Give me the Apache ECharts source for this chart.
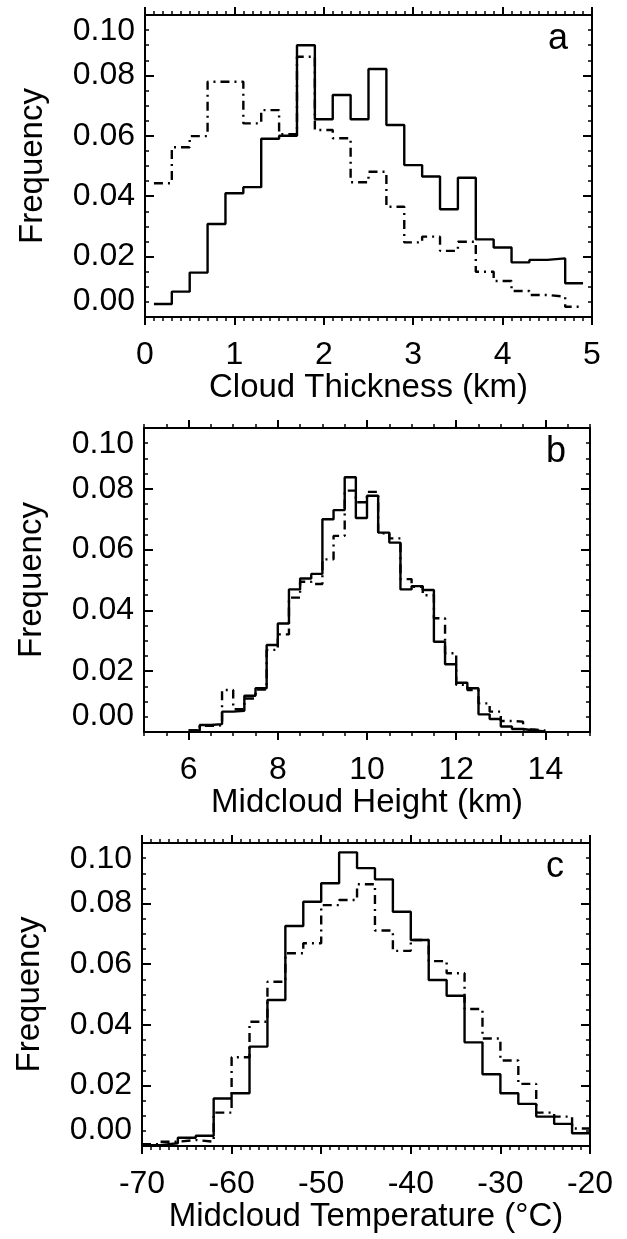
<!DOCTYPE html>
<html>
<head>
<meta charset="utf-8">
<script src="https://cdn.jsdelivr.net/npm/echarts@6/dist/echarts.min.js"></script>
<style>
  html, body { margin: 0; padding: 0; background: #fff; }
  #chart { width: 627px; height: 1239px; }
</style>
</head>
<body>
<div id="chart"></div>
<script>
"use strict";

// Panel a: cloud thickness (km), 0.2 km bins
var thickEdges = [0.1, 0.3, 0.5, 0.7, 0.9, 1.1, 1.3, 1.5, 1.7, 1.9, 2.1, 2.3,
  2.5, 2.7, 2.9, 3.1, 3.3, 3.5, 3.7, 3.9, 4.1, 4.3, 4.5, 4.7];
var thickWidth = 0.2;
var thickSolid = [0.0043, 0.0084, 0.0147, 0.0308, 0.0410, 0.0430, 0.0590, 0.0600,
  0.0900, 0.0655, 0.0735, 0.0655, 0.0821, 0.0636, 0.0503, 0.0465, 0.0357, 0.0461,
  0.0257, 0.0230, 0.0181, 0.0189, 0.0194, 0.0112];
var thickDash = [0.0443, 0.0562, 0.0599, 0.0779, 0.0779, 0.0641, 0.0685, 0.0605,
  0.0862, 0.0619, 0.0592, 0.0446, 0.0481, 0.0365, 0.0247, 0.0266, 0.0219, 0.0249,
  0.0150, 0.0119, 0.0086, 0.0073, 0.0067, 0.0034];
var thickTicks = [0, 1, 2, 3, 4, 5];

// Panel b: midcloud height (km), 0.25 km bins
var heightEdges = [6.0, 6.25, 6.5, 6.75, 7.0, 7.25, 7.5, 7.75, 8.0, 8.25, 8.5, 8.75,
  9.0, 9.25, 9.5, 9.75, 10.0, 10.25, 10.5, 10.75, 11.0, 11.25, 11.5, 11.75,
  12.0, 12.25, 12.5, 12.75, 13.0, 13.25, 13.5, 13.75];
var heightWidth = 0.25;
var heightSolid = [0.0005, 0.0023, 0.0026, 0.0067, 0.0070, 0.0119, 0.0144, 0.0286,
  0.0357, 0.0469, 0.0505, 0.0520, 0.0700, 0.0730, 0.0838, 0.0704, 0.0777, 0.0656,
  0.0623, 0.0469, 0.0480, 0.0467, 0.0297, 0.0223, 0.0162, 0.0144, 0.0058, 0.0043,
  0.0018, 0.0010, 0.0005, 0.0002];
var heightDash = [0.0005, 0.0020, 0.0022, 0.0138, 0.0075, 0.0110, 0.0140, 0.0270,
  0.0321, 0.0442, 0.0494, 0.0487, 0.0568, 0.0645, 0.0794, 0.0756, 0.0790, 0.0654,
  0.0637, 0.0503, 0.0478, 0.0450, 0.0374, 0.0259, 0.0155, 0.0138, 0.0094, 0.0067,
  0.0036, 0.0034, 0.0008, 0.0005];
var heightTicks = [6, 8, 10, 12, 14];

// Panel c: midcloud temperature (C), 2 degree bins
var tempEdges = [-70, -68, -66, -64, -62, -60, -58, -56, -54, -52, -50, -48, -46,
  -44, -42, -40, -38, -36, -34, -32, -30, -28, -26, -24, -22];
var tempWidth = 2;
var tempSolid = [0.0003, 0.0009, 0.0027, 0.0034, 0.0157, 0.0174, 0.0328, 0.0482,
  0.0726, 0.0806, 0.0867, 0.0969, 0.0917, 0.0880, 0.0773, 0.0680, 0.0548, 0.0496,
  0.0342, 0.0237, 0.0174, 0.0139, 0.0097, 0.0073, 0.0042];
var tempDash = [0.0006, 0.0014, 0.0020, 0.0014, 0.0110, 0.0293, 0.0410, 0.0542,
  0.0636, 0.0669, 0.0795, 0.0812, 0.0864, 0.0711, 0.0644, 0.0680, 0.0610, 0.0570,
  0.0452, 0.0355, 0.0282, 0.0205, 0.0110, 0.0097, 0.0058];
var tempTicks = [-70, -60, -50, -40, -30, -20];

var FONT = "Liberation Sans, Arial, Helvetica, sans-serif";
var black = "#000";

var chart = echarts.init(document.getElementById("chart"));

var grids = [];
var xAxes = [];
var yAxes = [];
var series = [];
var graphics = [];

// step points: left edge of every bin, plus right edge of the last one
function steps(edges, width, values) {
  var pts = [];
  edges.forEach(function (e, i) {
    pts.push([e, values[i]]);
  });
  pts.push([edges[edges.length - 1] + width, values[values.length - 1]]);
  return pts;
}

function addPanel(p) {
  var g = grids.length;
  grids.push({ left: p.left, top: p.top, width: p.width, height: p.height });

  var xi = xAxes.length;
  ["bottom", "top"].forEach(function (pos) {
    // minor ticks, outward
    xAxes.push({
      gridIndex: g, type: "value", position: pos, min: p.min, max: p.max,
      interval: p.minor,
      axisLine: { onZero: false, lineStyle: { color: black, width: 2 } },
      axisTick: { length: 4, lineStyle: { color: black, width: 1.5 } },
      axisLabel: { show: false },
      splitLine: { show: false }
    });
    // major ticks and labels
    xAxes.push({
      gridIndex: g, type: "value", position: pos, min: p.min, max: p.max,
      axisLine: { show: false, onZero: false },
      axisTick: { customValues: p.ticks, length: 8, lineStyle: { color: black, width: 2 } },
      axisLabel: {
        show: pos === "bottom", customValues: p.ticks, margin: 22,
        fontSize: 32, fontFamily: FONT, color: black
      },
      splitLine: { show: false },
      name: pos === "bottom" ? p.name : "",
      nameLocation: "middle",
      nameGap: 46,
      nameTextStyle: { fontSize: 33, fontFamily: FONT, color: black }
    });
  });

  var yi = yAxes.length;
  ["left", "right"].forEach(function (pos) {
    yAxes.push({
      gridIndex: g, type: "value", position: pos, min: 0, max: 0.1, interval: 0.02,
      axisLine: { show: true, onZero: false, lineStyle: { color: black, width: 2 } },
      axisTick: { inside: true, length: 9, lineStyle: { color: black, width: 2 } },
      minorTick: { show: true, splitNumber: 4, length: 4, lineStyle: { color: black, width: 1.5 } },
      splitLine: { show: false },
      axisLabel: {
        show: pos === "left", margin: 10, fontSize: 32, fontFamily: FONT, color: black,
        verticalAlignMinLabel: "bottom", verticalAlignMaxLabel: "top",
        formatter: function (v) { return v.toFixed(2); }
      },
      name: pos === "left" ? "Frequency" : "",
      nameLocation: "middle",
      nameGap: 96,
      nameTextStyle: { fontSize: 33, fontFamily: FONT, color: black }
    });
  });

  series.push({
    type: "line", xAxisIndex: xi, yAxisIndex: yi, step: "end",
    symbol: "none", silent: true,
    lineStyle: { color: black, width: 2.4, type: "solid" },
    data: steps(p.edges, p.binWidth, p.solid)
  });
  series.push({
    type: "line", xAxisIndex: xi, yAxisIndex: yi, step: "end",
    symbol: "none", silent: true,
    lineStyle: { color: black, width: 2.4, type: [9, 5, 2, 5] },
    data: steps(p.edges, p.binWidth, p.dash)
  });

  graphics.push({
    type: "text", left: p.left + p.width - 44, top: p.top + 6,
    style: { text: p.tag, font: "36px " + FONT, fill: black }
  });
}

addPanel({
  left: 145, top: 15, width: 447, height: 302, min: 0, max: 5, minor: 0.1,
  ticks: thickTicks, name: "Cloud Thickness (km)", tag: "a",
  edges: thickEdges, binWidth: thickWidth, solid: thickSolid, dash: thickDash
});
addPanel({
  left: 144, top: 428, width: 446, height: 304, min: 5, max: 15, minor: 0.5,
  ticks: heightTicks, name: "Midcloud Height (km)", tag: "b",
  edges: heightEdges, binWidth: heightWidth, solid: heightSolid, dash: heightDash
});
addPanel({
  left: 142, top: 843, width: 448, height: 303, min: -70, max: -20, minor: 1,
  ticks: tempTicks, name: "Midcloud Temperature (\u00b0C)", tag: "c",
  edges: tempEdges, binWidth: tempWidth, solid: tempSolid, dash: tempDash
});

var option = {
  backgroundColor: "#fff",
  animation: false,
  grid: grids,
  xAxis: xAxes,
  yAxis: yAxes,
  series: series,
  graphic: graphics
};

chart.setOption(option);
</script>
</body>
</html>
